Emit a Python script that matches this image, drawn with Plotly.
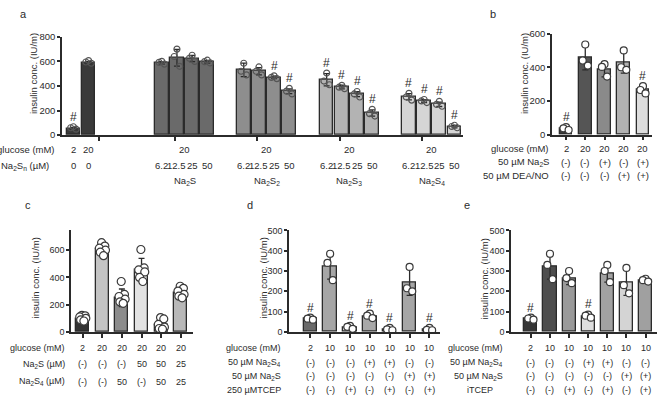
import plotly.graph_objects as go

W, H = 660, 405
FONT = "Arial, Liberation Sans, sans-serif"
INK = "#2b2b2b"

# ---- panel a: Na2Sn dose series
a_groups = ["", "Na<sub>2</sub>S", "Na<sub>2</sub>S<sub>2</sub>", "Na<sub>2</sub>S<sub>3</sub>", "Na<sub>2</sub>S<sub>4</sub>"]
a_glucose = [["2", "20"], ["20"], ["20"], ["20"], ["20"]]
a_doses = [["0", "0"]] + [["6.2", "12.5", "25", "50"]] * 4
a_means = [[55, 590], [589, 629, 623, 597], [531, 520, 470, 357], [451, 391, 333, 180], [312, 277, 251, 69]]
a_sd = [[8, 10], [10, 68, 25, 10], [55, 30, 10, 20], [50, 15, 20, 25], [25, 12, 18, 10]]
a_points = [
    [[68, 60, 48], [607, 595, 585]],
    [[600, 592, 578], [700, 640, 560], [650, 625, 600], [610, 598, 588]],
    [[585, 520, 490], [555, 520, 490], [482, 470, 460], [380, 358, 335]],
    [[505, 440, 410], [405, 390, 378], [355, 335, 310], [210, 175, 155]],
    [[340, 310, 285], [290, 278, 265], [275, 250, 235], [80, 70, 60]],
]
a_hash = [[1, 0], [0, 0, 0, 0], [0, 0, 1, 1], [1, 1, 1, 1], [1, 1, 1, 1]]
a_colors = ["#3a3a3a", "#6a6a6a", "#8e8e8e", "#b3b3b3", "#d5d5d5"]

# ---- panel b: Na2S / DEA-NO
b_glucose = ["2", "20", "20", "20", "20"]
b_na2s = ["(-)", "(-)", "(+)", "(-)", "(+)"]
b_deano = ["(-)", "(-)", "(-)", "(+)", "(+)"]
b_means = [35, 460, 385, 427, 265]
b_sd = [8, 75, 42, 62, 20]
b_points = [[45, 38, 28], [535, 440, 410], [418, 402, 345], [500, 400, 385], [288, 265, 245]]
b_hash = [1, 0, 0, 0, 1]
b_colors = ["#3a3a3a", "#555555", "#8a8a8a", "#b2b2b2", "#dddddd"]

# ---- panel c: Na2S + Na2S4 combos
c_glucose = ["2", "20", "20", "20", "20", "20"]
c_na2s = ["(-)", "(-)", "(-)", "50", "50", "25"]
c_na2s4 = ["(-)", "(-)", "50", "(-)", "50", "25"]
c_means = [100, 610, 250, 455, 55, 285]
c_sd = [15, 30, 65, 85, 40, 40]
c_points = [[122, 118, 110, 100, 88, 80], [655, 630, 615, 600, 585, 560],
            [370, 275, 260, 240, 220, 210], [605, 470, 455, 440, 400, 370],
            [105, 95, 55, 35, 25, 20], [335, 320, 300, 275, 262, 250]]
c_hash = [0, 0, 0, 0, 0, 0]
c_colors = ["#333333", "#c4c4c4", "#8c8c8c", "#e2e2e2", "#9c9c9c", "#b8b8b8"]

# ---- panel d: TCEP
d_glucose = ["2", "10", "10", "10", "10", "10", "10"]
d_na2s4 = ["(-)", "(-)", "(-)", "(+)", "(+)", "(-)", "(-)"]
d_na2s = ["(-)", "(-)", "(-)", "(-)", "(-)", "(+)", "(+)"]
d_tcep = ["(-)", "(-)", "(+)", "(-)", "(+)", "(-)", "(+)"]
d_means = [64, 325, 22, 78, 13, 245, 12]
d_sd = [5, 65, 7, 10, 6, 65, 6]
d_points = [[70, 65, 60], [385, 340, 255], [30, 25, 15], [90, 80, 68], [20, 12, 8], [320, 215, 200], [20, 10, 8]]
d_hash = [1, 0, 1, 1, 1, 0, 1]
d_colors = ["#6a6a6a", "#a6a6a6", "#d2d2d2", "#a8a8a8", "#d0d0d0", "#a6a6a6", "#d2d2d2"]

# ---- panel e: iTCEP
e_glucose = ["2", "10", "10", "10", "10", "10", "10"]
e_na2s4 = ["(-)", "(-)", "(-)", "(+)", "(+)", "(-)", "(-)"]
e_na2s = ["(-)", "(-)", "(-)", "(-)", "(-)", "(+)", "(+)"]
e_itcep = ["(-)", "(-)", "(+)", "(-)", "(+)", "(-)", "(+)"]
e_means = [65, 325, 265, 78, 290, 245, 255]
e_sd = [5, 65, 32, 8, 45, 65, 8]
e_points = [[70, 66, 60], [385, 330, 260], [300, 265, 240], [85, 80, 70], [330, 300, 245], [315, 230, 190], [262, 255, 248]]
e_hash = [1, 0, 0, 1, 0, 0, 0]
e_colors = ["#363636", "#4e4e4e", "#9a9a9a", "#dedede", "#a2a2a2", "#d4d4d4", "#a0a0a0"]

YTITLE = "insulin conc. (IU/m)"

fig = go.Figure()
annots = []


def txt(x, y_px, text, xref="paper", anchor="center", size=9.5, **kw):
    # x is in pixels when xref is paper, in data units otherwise; y always in pixels
    if not text:
        return
    annots.append(dict(x=x / W if xref == "paper" else x, y=1 - y_px / H, xref=xref, yref="paper",
                       text=text, showarrow=False, xanchor=anchor, yanchor="middle",
                       font=dict(family=FONT, size=size, color=INK), **kw))


def axes(n, xpx, ypx, xr, yr, dtick, tickvals, tsize=9.5):
    k = "" if n == 1 else str(n)
    fig.update_layout(**{
        "xaxis" + k: dict(domain=[xpx[0] / W, xpx[1] / W], range=xr, anchor="y" + k,
                          showline=True, linecolor=INK, linewidth=1.5, ticks="outside",
                          ticklen=4, tickwidth=1.5, tickcolor=INK, tickvals=tickvals,
                          showticklabels=False, showgrid=False, zeroline=False),
        "yaxis" + k: dict(domain=[1 - ypx[0] / H, 1 - ypx[1] / H], range=yr, anchor="x" + k,
                          showline=True, linecolor=INK, linewidth=1.5, ticks="outside",
                          ticklen=3, tickwidth=1.5, tickcolor=INK, dtick=dtick, tick0=0,
                          tickfont=dict(family=FONT, size=tsize, color=INK),
                          showgrid=False, zeroline=False),
    })


JIT3 = [0.0, -0.2, 0.2]
JIT6 = [-0.05, 0.2, -0.22, 0.25, -0.15, 0.1]


def bars(n, xs, means, sds, colors, points, hashes, bw, msize, open_marker=False):
    k = "" if n == 1 else str(n)
    fig.add_trace(go.Bar(
        x=xs, y=means, width=bw, xaxis="x" + k, yaxis="y" + k,
        marker=dict(color=colors, line=dict(color=INK, width=1.3)),
        error_y=dict(type="data", array=sds, color=INK, thickness=1.3, width=3),
        showlegend=False, hoverinfo="skip"))
    px, py = [], []
    for x, pts in zip(xs, points):
        jit = JIT3 if len(pts) <= 3 else JIT6
        for j, v in enumerate(pts):
            px.append(x + jit[j] * bw)
            py.append(v)
    fig.add_trace(go.Scatter(
        x=px, y=py, mode="markers", xaxis="x" + k, yaxis="y" + k,
        marker=dict(symbol="circle-open" if open_marker else "circle", size=msize,
                    color="#ffffff" if not open_marker else "#555555",
                    line=dict(color="#3a3a3a", width=1.2)),
        showlegend=False, hoverinfo="skip"))
    for x, m, s, pts, h in zip(xs, means, sds, points, hashes):
        if h:
            top = max(m + s, max(pts))
            annots.append(dict(x=x, y=top, xref="x" + k, yref="y" + k, text="#", showarrow=False,
                               yanchor="bottom", yshift=1,
                               font=dict(family=FONT, size=12, color=INK)))


# ---------- panel a
a_starts = [0, 5.82, 11.22, 16.68, 22.1]
a_ticks = [1.7] + [s + 0.85 for s in a_starts[1:]]
axes(1, (62, 463), (132.7, 31.7), [-0.75, 25.66], [0, 800], 200, a_ticks)
xs, ms, sd, cl, pt, hs = [], [], [], [], [], []
for g, s in enumerate(a_starts):
    for i, m in enumerate(a_means[g]):
        xs.append(s + i)
        ms.append(m)
        sd.append(a_sd[g][i])
        cl.append(a_colors[g])
        pt.append(a_points[g][i])
        hs.append(a_hash[g][i])
bars(1, xs, ms, sd, cl, pt, hs, 0.9, 6, open_marker=True)
txt(57, 147, "glucose (mM)", anchor="right")
txt(51, 164, "Na<sub>2</sub>S<sub>n</sub> (µM)", anchor="right")
for g, s in enumerate(a_starts):
    if len(a_glucose[g]) == 1:
        txt(s + 1.5, 147, a_glucose[g][0], xref="x")
        txt(s + 1.5, 180, a_groups[g], xref="x")
    else:
        for i, v in enumerate(a_glucose[g]):
            txt(s + i, 147, v, xref="x")
    for i, v in enumerate(a_doses[g]):
        txt(s + i, 164, v, xref="x")
txt(33, 70, YTITLE, textangle=-90, size=9.5)
txt(23, 8, "a", size=11)

# ---------- panel b
bx = list(range(len(b_means)))
axes(2, (552, 652), (132.3, 28.3), [-0.73, 4.47], [0, 600], 200, bx)
bars(2, bx, b_means, b_sd, b_colors, b_points, b_hash, 0.67, 7)
for y, lab, vals in [(146, "glucose (mM)", b_glucose), (160.5, "50 µM Na<sub>2</sub>S", b_na2s),
                     (174.5, "50 µM DEA/NO", b_deano)]:
    txt(551, y, lab, anchor="right")
    for i, v in enumerate(vals):
        txt(i, y, v, xref="x2")
txt(524, 70, YTITLE, textangle=-90, size=9.5)
txt(493, 8, "b", size=11)

# ---------- panel c
cx = list(range(len(c_means)))
axes(3, (71, 193), (335, 230), [-0.59, 5.62], [0, 750], 200, cx, tsize=9)
bars(3, cx, c_means, c_sd, c_colors, c_points, c_hash, 0.66, 8)
for y, lab, vals in [(352, "glucose (mM)", c_glucose), (368.5, "Na<sub>2</sub>S (µM)", c_na2s),
                     (386, "Na<sub>2</sub>S<sub>4</sub> (µM)", c_na2s4)]:
    txt(67, y, lab, anchor="right", size=9)
    for i, v in enumerate(vals):
        txt(i, y, v, xref="x3", size=9)
txt(35, 280, YTITLE, textangle=-90, size=9.5)
txt(28, 205, "c", size=11)

# ---------- panel d
dx = list(range(len(d_means)))
axes(4, (289, 440), (335, 230.7), [-1.07, 6.53], [0, 500], 100, dx, tsize=9)
bars(4, dx, d_means, d_sd, d_colors, d_points, d_hash, 0.67, 7)
for y, lab, vals in [(351.7, "glucose (mM)", d_glucose), (366.5, "50 µM Na<sub>2</sub>S<sub>4</sub>", d_na2s4),
                     (380.5, "50 µM Na<sub>2</sub>S", d_na2s), (395, "250 µMTCEP", d_tcep)]:
    txt(283, y, lab, anchor="right", size=9)
    for i, v in enumerate(vals):
        txt(i, y, v, xref="x4", size=9)
txt(263, 280, YTITLE, textangle=-90, size=9.5)
txt(250, 205, "d", size=11)

# ---------- panel e
ex = list(range(len(e_means)))
axes(5, (511, 657), (335, 230.7), [-1.04, 6.6], [0, 500], 100, ex, tsize=9)
bars(5, ex, e_means, e_sd, e_colors, e_points, e_hash, 0.69, 7)
for y, lab, vals in [(351.7, "glucose (mM)", e_glucose), (366.5, "50 µM Na<sub>2</sub>S<sub>4</sub>", e_na2s4),
                     (380.5, "50 µM Na<sub>2</sub>S", e_na2s)]:
    txt(505, y, lab, anchor="right", size=9)
    for i, v in enumerate(vals):
        txt(i, y, v, xref="x5", size=9)
txt(465, 395, "iTCEP", anchor="left", size=9)
for i, v in enumerate(e_itcep):
    txt(i, 395, v, xref="x5", size=9)
txt(484, 280, YTITLE, textangle=-90, size=9.5)
txt(467, 205, "e", size=11)

fig.update_layout(width=W, height=H, margin=dict(l=0, r=0, t=0, b=0),
                  paper_bgcolor="white", plot_bgcolor="white",
                  font=dict(family=FONT, color=INK), annotations=annots, bargap=0)
# the page body has a default 8px margin; drop it so the figure sits at the window corner
fig.write_html("out.html", config={"displayModeBar": False},
               post_script="document.body.style.margin='0';")
